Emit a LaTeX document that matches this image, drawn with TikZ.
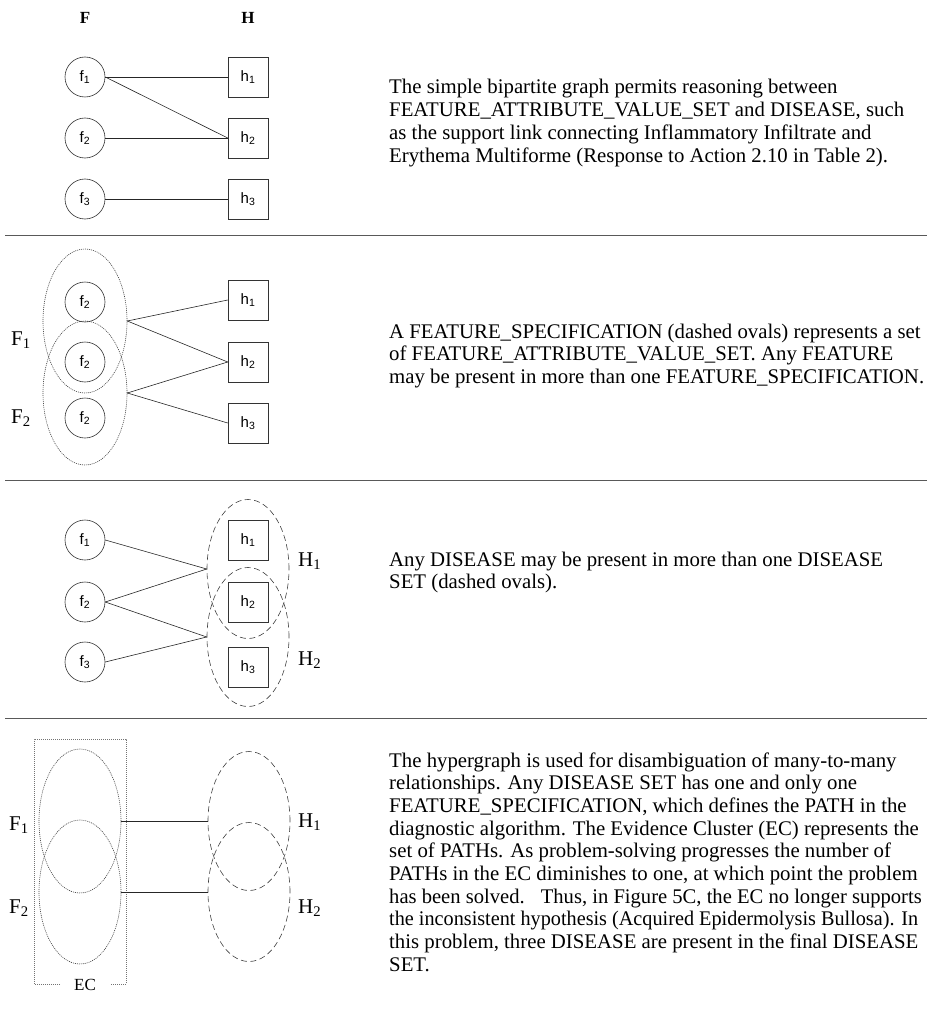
\documentclass[tikz,border=0pt]{standalone}
\usepackage{fontspec}
\usepackage{graphicx}
\setmainfont{Liberation Serif}
\newfontfamily\arialf{Liberation Sans}
\usetikzlibrary{shapes.geometric}
\begin{document}
\begin{tikzpicture}[x=1pt,y=-1pt,
  fnode/.style={circle,draw=black!80,line width=0.6pt,minimum size=40pt,inner sep=0pt,font=\arialf\fontsize{15}{15}\selectfont},
  hnode/.style={rectangle,draw=black!80,line width=0.6pt,minimum size=40pt,inner sep=0pt,font=\arialf\fontsize{15}{15}\selectfont},
  fset/.style={ellipse,draw=black!75,line width=0.6pt,dash pattern=on 1pt off 1pt,minimum width=84pt,minimum height=144pt,inner sep=0pt},
  hset/.style={ellipse,draw=black!75,line width=0.6pt,dash pattern=on 6pt off 3.5pt,minimum width=82pt,minimum height=139pt,inner sep=0pt},
  link/.style={draw=black!85,line width=0.6pt},
  sep/.style={draw=black!65,line width=0.9pt},
  biglab/.style={anchor=base west,inner sep=0pt,font=\fontsize{21}{21}\selectfont},
  para/.style={anchor=base west,inner sep=0pt,align=left,font=\fontsize{20.8}{22.7}\selectfont},
  head/.style={anchor=base,inner sep=0pt,font=\bfseries\fontsize{17}{17}\selectfont}
]
\useasboundingbox (0,0) rectangle (927,1011);

% separators
\draw[sep] (5,235) -- (927,235);
\draw[sep] (5,480) -- (927,480);
\draw[sep] (5,718) -- (927,718);

% ---------- Panel 1 ----------
\node[head] (hF) at (85,24) {F};
\node[head] (hH) at (248,24) {H};
\node[fnode] (a1) at (85,77) {f\textsubscript{1}};
\node[fnode] (a2) at (85,138) {f\textsubscript{2}};
\node[fnode] (a3) at (85,199) {f\textsubscript{3}};
\node[hnode] (b1) at (248,77) {h\textsubscript{1}};
\node[hnode] (b2) at (248,138) {h\textsubscript{2}};
\node[hnode] (b3) at (248,199) {h\textsubscript{3}};
\draw[link] (a1.east) -- (b1.west);
\draw[link] (a1.east) -- (b2.west);
\draw[link] (a2.east) -- (b2.west);
\draw[link] (a3.east) -- (b3.west);
% anchor base = baseline of the last line
\node[para] (t1) at (389,162.1) {The simple bipartite graph permits reasoning between\\
FEATURE\_ATTRIBUTE\_VALUE\_SET and DISEASE, such\\
as the support link connecting Inflammatory Infiltrate and\\
Erythema Multiforme (Response to Action 2.10 in Table 2).};

% ---------- Panel 2 ----------
\node[fset] (F1b) at (85,321) {};
\node[fset] (F2b) at (85,393) {};
\node[fnode] (c1) at (85,302) {f\textsubscript{2}};
\node[fnode] (c2) at (85,362) {f\textsubscript{2}};
\node[fnode] (c3) at (85,418) {f\textsubscript{2}};
\node[hnode] (d1) at (248,300) {h\textsubscript{1}};
\node[hnode] (d2) at (248,362) {h\textsubscript{2}};
\node[hnode] (d3) at (248,423) {h\textsubscript{3}};
\draw[link] (F1b.east) -- (d1.west);
\draw[link] (F1b.east) -- (d2.west);
\draw[link] (F2b.east) -- (d2.west);
\draw[link] (F2b.east) -- (d3.west);
\node[biglab] (lF1b) at (11,345) {F\textsubscript{1}};
\node[biglab] (lF2b) at (11,423) {F\textsubscript{2}};
\node[para] (t2) at (389,383.4) {A FEATURE\_SPECIFICATION (dashed ovals) represents a set\\
of FEATURE\_ATTRIBUTE\_VALUE\_SET. Any FEATURE\\
may be present in more than one FEATURE\_SPECIFICATION.};

% ---------- Panel 3 ----------
\node[hset] (H1c) at (248,569) {};
\node[hset] (H2c) at (248,637) {};
\node[fnode] (e1) at (85,540) {f\textsubscript{1}};
\node[fnode] (e2) at (85,602) {f\textsubscript{2}};
\node[fnode] (e3) at (85,662) {f\textsubscript{3}};
\node[hnode] (g1) at (248,540) {h\textsubscript{1}};
\node[hnode] (g2) at (248,602) {h\textsubscript{2}};
\node[hnode] (g3) at (248,667) {h\textsubscript{3}};
\draw[link] (e1.east) -- (H1c.west);
\draw[link] (e2.east) -- (H1c.west);
\draw[link] (e2.east) -- (H2c.west);
\draw[link] (e3.east) -- (H2c.west);
\node[biglab] (lH1c) at (298,566) {H\textsubscript{1}};
\node[biglab] (lH2c) at (298,665) {H\textsubscript{2}};
\node[para] (t3) at (389,588.7) {Any DISEASE may be present in more than one DISEASE\\
SET (dashed ovals).};

% ---------- Panel 4 ----------
\draw[draw=black!55,line width=0.6pt,dash pattern=on 1pt off 1pt]
  (60,984) -- (34,984) -- (34,739) -- (126,739) -- (126,984) -- (111,984);
\node[anchor=base,inner sep=0pt,font=\fontsize{17}{17}\selectfont] (ec) at (85,990) {EC};
\node[fset,minimum width=82pt] (F1d) at (80,821) {};
\node[fset,minimum width=82pt] (F2d) at (80,892) {};
\node[hset] (H1d) at (249,821) {};
\node[hset] (H2d) at (249,892) {};
\draw[link] (F1d.east) -- (H1d.west);
\draw[link] (F2d.east) -- (H2d.west);
\node[biglab] (lF1d) at (9,830) {F\textsubscript{1}};
\node[biglab] (lF2d) at (9,913) {F\textsubscript{2}};
\node[biglab] (lH1d) at (298,827) {H\textsubscript{1}};
\node[biglab] (lH2d) at (298,913) {H\textsubscript{2}};
\node[para] (t4) at (389,971.3) {The hypergraph is used for disambiguation of many-to-many\\
relationships. Any DISEASE SET has one and only one\\
FEATURE\_SPECIFICATION, which defines the PATH in the\\
diagnostic algorithm. The Evidence Cluster (EC) represents the\\
set of PATHs. As problem-solving progresses the number of\\
PATHs in the EC diminishes to one, at which point the problem\\
\scalebox{0.99}[1]{has been solved.\hspace{0.45em} Thus, in Figure 5C, the EC no longer supports}\\
\scalebox{0.972}[1]{the inconsistent hypothesis (Acquired Epidermolysis Bullosa). In}\\
this problem, three DISEASE are present in the final DISEASE\\
SET.};
\end{tikzpicture}
\end{document}
